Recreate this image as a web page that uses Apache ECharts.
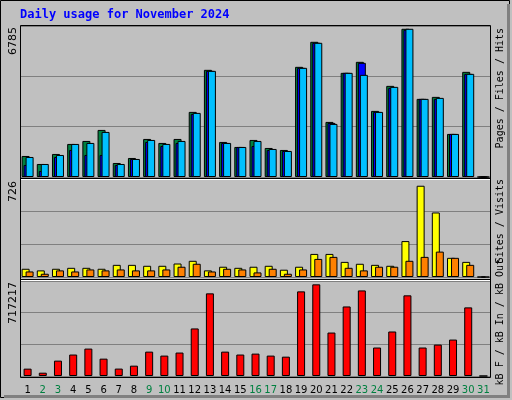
<!DOCTYPE html>
<html>
<head>
<meta charset="utf-8">
<style>html,body{margin:0;padding:0;background:#c0c0c0}#chart{width:512px;height:400px}</style>
<script src="https://cdn.jsdelivr.net/npm/echarts@6/dist/echarts.min.js"></script>
</head>
<body>
<div id="chart"></div>
<script>
// daily values, 1..31 Nov 2024
var days = ['1','2','3','4','5','6','7','8','9','10','11','12','13','14','15','16','17','18','19','20','21','22','23','24','25','26','27','28','29','30','31'];
var weekend = ['2','3','9','10','16','17','23','24','30','31'];
var hits  = [945,585,1035,1485,1620,2115,630,855,1710,1530,1710,2925,4815,1575,1350,1665,1305,1215,4950,6075,2475,4680,5175,2970,4095,6660,3510,3600,1935,4725,0];
var files = [540,270,900,1215,990,990,540,810,1575,1395,1530,2835,4770,1530,1350,1395,1215,1170,4905,6030,2430,4680,5130,2925,4005,6615,3510,3510,1935,4635,0];
var pages = [900,585,990,1485,1530,2025,585,810,1665,1485,1620,2880,4770,1530,1350,1620,1260,1170,4905,6030,2385,4680,4590,2925,4050,6660,3510,3555,1935,4635,0];
var visits = [61,49,61,68,68,61,90,90,83,83,100,120,49,76,68,76,83,54,76,171,171,112,98,90,83,266,676,478,142,112,0];
var sites  = [41,24,49,41,56,49,56,49,49,56,76,98,41,61,56,34,61,24,56,134,149,68,49,76,76,120,149,188,142,90,0];
var kbytes = [55500,25000,116000,162000,207000,131000,56000,78000,184000,154000,177000,359000,624000,184000,162000,169000,154000,146000,639000,692000,328000,525000,646000,215000,336000,609000,215000,237000,275000,518000,0];
var maxHits = 6785, maxVisits = 726, maxKB = 717217;

var chart = echarts.init(document.getElementById('chart'));
var mono = 'DejaVu Sans Mono';
var grids = [
  {left: 20, right: 21, top: 26, height: 151},
  {left: 20, right: 21, top: 179, height: 98},
  {left: 20, right: 21, top: 281, height: 95}
];
function xAx(i, show) {
  return {
    type: 'category', gridIndex: i, data: days,
    axisLine: {show: false}, axisTick: {show: false},
    axisLabel: show ? {
      margin: 9, interval: 0,
      formatter: function (v) { return weekend.indexOf(v) >= 0 ? '{g|' + v + '}' : '{k|' + v + '}'; },
      rich: {g: {color: '#008040', fontSize: 10, fontFamily: 'DejaVu Sans'}, k: {color: '#000', fontSize: 10, fontFamily: 'DejaVu Sans'}}
    } : {show: false}
  };
}
function yAx(i, max) {
  return {
    type: 'value', gridIndex: i, min: 0, max: max, interval: max / 3,
    axisLabel: {show: false}, axisLine: {show: false}, axisTick: {show: false},
    splitLine: {lineStyle: {color: '#808080', width: 1}}
  };
}
function bar(name, data, color, ax, w, gap) {
  return {
    name: name, type: 'bar', data: data, xAxisIndex: ax, yAxisIndex: ax,
    barWidth: w, barGap: gap, animation: false,
    itemStyle: {color: color, borderColor: '#000', borderWidth: 1}
  };
}
function vtext(x, y, rich, text, size) {
  return {type: 'text', x: x, y: y, rotation: Math.PI / 2,
    style: {text: text, rich: rich, align: 'right', verticalAlign: 'middle', font: size + 'px ' + mono, fill: '#000'}};
}
var fs = 10;
var r = function (c) { return {color: c, fontFamily: mono, fontSize: fs}; };

chart.setOption({
  backgroundColor: '#c0c0c0',
  grid: grids,
  xAxis: [xAx(0, false), xAx(1, false), xAx(2, true)],
  yAxis: [yAx(0, maxHits), yAx(1, maxVisits), yAx(2, maxKB)],
  series: [
    bar('Hits', hits, '#008040', 0, 8, '-75%'),
    bar('Files', files, '#0000ff', 0, 8, '-75%'),
    bar('Pages', pages, '#00c0ff', 0, 8, '-75%'),
    bar('Visits', visits, '#ffff00', 1, 8, '-50%'),
    bar('Sites', sites, '#ff8000', 1, 8, '-50%'),
    bar('kB F', kbytes, '#ff0000', 2, 8, '0%')
  ],
  graphic: [
    {type: 'rect', shape: {x: 0.5, y: 0.5, width: 509, height: 397}, style: {fill: null, stroke: '#000', lineWidth: 1}, silent: true},
    {type: 'rect', shape: {x: 507, y: 4, width: 3, height: 394}, style: {fill: '#808080'}, silent: true},
    {type: 'rect', shape: {x: 4, y: 395, width: 506, height: 3}, style: {fill: '#808080'}, silent: true},
    {type: 'rect', shape: {x: 20.5, y: 25.5, width: 470, height: 352}, style: {fill: null, stroke: '#000', lineWidth: 1}, silent: true, z: 10},
    {type: 'line', shape: {x1: 21, y1: 179.5, x2: 490, y2: 179.5}, style: {stroke: '#fff', lineWidth: 1}, z: 10},
    {type: 'line', shape: {x1: 21, y1: 178.5, x2: 490, y2: 178.5}, style: {stroke: '#000', lineWidth: 1}, z: 10},
    {type: 'line', shape: {x1: 21, y1: 280.5, x2: 490, y2: 280.5}, style: {stroke: '#fff', lineWidth: 1}, z: 10},
    {type: 'line', shape: {x1: 21, y1: 279.5, x2: 490, y2: 279.5}, style: {stroke: '#000', lineWidth: 1}, z: 10},
    {type: 'text', x: 20, y: 15, style: {text: 'Daily usage for November 2024', font: 'bold 12px ' + mono, fill: '#0000ff', verticalAlign: 'middle'}},
    {type: 'text', x: 13, y: 27, rotation: Math.PI / 2, style: {text: '6785', font: '11px DejaVu Sans', fill: '#000', align: 'right', verticalAlign: 'middle'}},
    {type: 'text', x: 13, y: 181, rotation: Math.PI / 2, style: {text: '726', font: '11px DejaVu Sans', fill: '#000', align: 'right', verticalAlign: 'middle'}},
    {type: 'text', x: 13, y: 282, rotation: Math.PI / 2, style: {text: '717217', font: '11px DejaVu Sans', fill: '#000', align: 'right', verticalAlign: 'middle'}},
    vtext(500, 28, {p: r('#00c0ff'), f: r('#0000ff'), h: r('#008040'), s: r('#000')},
      '{p|Pages}{s| / }{f|Files}{s| / }{h|Hits}', fs),
    vtext(500, 179, {o: r('#ff8000'), v: r('#ffff00'), s: r('#000')},
      '{o|Sites}{s| / }{v|Visits}', fs),
    vtext(500, 259, {r: r('#ff0000'), b: r('#0000ff'), g: r('#008040'), s: r('#000')},
      '{r|kB F}{s| / }{b|kB In}{s| / }{g|kB Out}', fs)
  ]
});
</script>
</body>
</html>
